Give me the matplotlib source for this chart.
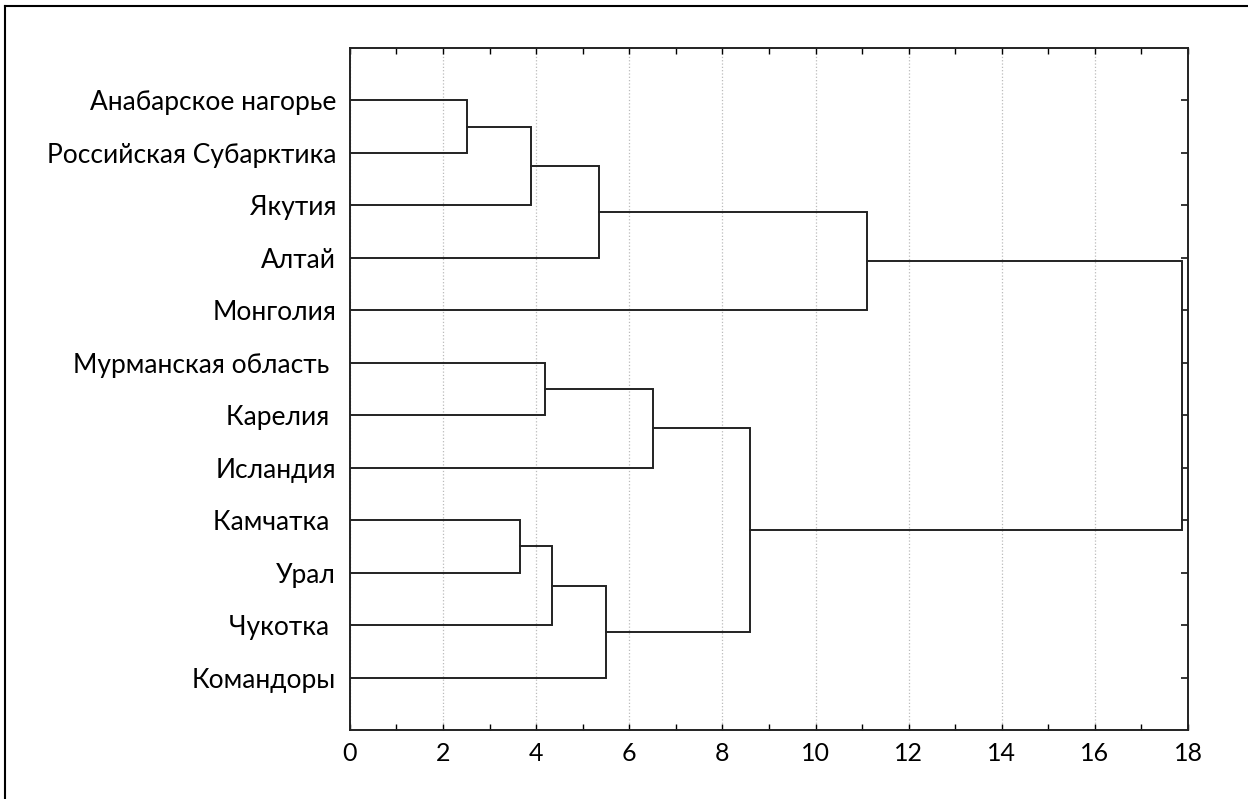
import matplotlib.pyplot as plt
from matplotlib.lines import Line2D
from matplotlib.ticker import MultipleLocator

# === DATA ===
leaves = ["Анабарское нагорье", "Российская Субарктика", "Якутия", "Алтай",
          "Монголия", "Мурманская область ", "Карелия ", "Исландия",
          "Камчатка ", "Урал", "Чукотка ", "Командоры"]
# merges: node 12 + k joins merge_a[k] and merge_b[k] at merge_h[k]
merge_a = [0, 12, 13, 14, 5, 16, 8, 18, 19, 17, 15]
merge_b = [1, 2, 3, 4, 6, 7, 9, 10, 11, 20, 21]
merge_h = [2.52, 3.89, 5.36, 11.10, 4.19, 6.52, 3.66, 4.35, 5.49, 8.60, 17.88]

plt.rcParams['font.family'] = ['Lato', 'DejaVu Sans']

fig = plt.figure(figsize=(12.48, 7.99), dpi=100)
ax = fig.add_axes([0.2804, 0.0864, 0.6715, 0.8535])

# node positions: (x = height, y = position)
pos = {i: (0.0, i + 1) for i in range(len(leaves))}
for k, (a, b, h) in enumerate(zip(merge_a, merge_b, merge_h)):
    xa, ya = pos[a]
    xb, yb = pos[b]
    ax.plot([xa, h, h, xb], [ya, ya, yb, yb], color="#222222", lw=1.4,
            solid_joinstyle="miter", zorder=3)
    pos[12 + k] = (h, (ya + yb) / 2)

ax.set_xlim(0, 18)
ax.set_ylim(13, 0)
ax.xaxis.set_major_locator(MultipleLocator(2))
ax.xaxis.set_minor_locator(MultipleLocator(1))
ax.grid(axis="x", which="major", color="#bbbbbb", ls=":", lw=0.9)
ax.set_axisbelow(True)

ax.set_yticks(range(1, len(leaves) + 1))
ax.set_yticklabels(leaves, fontsize=19)
ax.tick_params(axis="y", which="both", left=False, right=True, direction="in",
               length=5, width=1.1, pad=10)
ax.tick_params(axis="x", which="both", top=True, bottom=True, direction="in",
               length=4, width=1.0, labelsize=18, pad=9)
for s in ax.spines.values():
    s.set_linewidth(1.4)
    s.set_color("#222222")

# outer frame (left and top edges)
fig.add_artist(Line2D([0.0044, 0.0044], [0.0, 0.9925], transform=fig.transFigure,
                      color="black", lw=1.5))
fig.add_artist(Line2D([0.0044, 1.0], [0.9925, 0.9925], transform=fig.transFigure,
                      color="black", lw=1.5))

fig.savefig("out.png", dpi=100)
